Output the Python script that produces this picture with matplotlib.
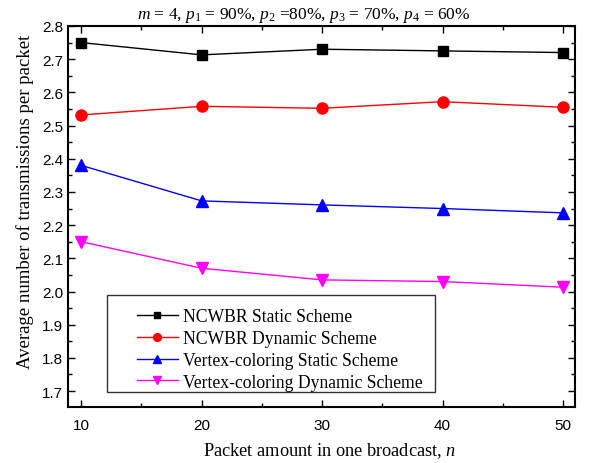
import matplotlib.pyplot as plt
from matplotlib.patches import Rectangle
from matplotlib.ticker import MultipleLocator

# data
n = [10, 20, 30, 40, 50]
ncwbr_static = [2.750, 2.713, 2.730, 2.725, 2.720]
ncwbr_dynamic = [2.532, 2.558, 2.552, 2.572, 2.555]
vc_static = [2.380, 2.273, 2.261, 2.250, 2.237]
vc_dynamic = [2.150, 2.070, 2.035, 2.030, 2.013]

plt.rcParams['font.family'] = 'Liberation Sans'
plt.rcParams['mathtext.fontset'] = 'custom'
plt.rcParams['mathtext.rm'] = 'Liberation Serif'
plt.rcParams['mathtext.it'] = 'Liberation Serif:italic'

fig = plt.figure(figsize=(5.9, 4.64), dpi=100)
ax = fig.add_axes([68/590, 1-408/464, 507/590, 381/464])

ax.plot(n, ncwbr_static, '-s', color='black', lw=1, ms=7, label='NCWBR Static Scheme')
ax.plot(n, ncwbr_dynamic, '-o', color='red', lw=1, ms=8, label='NCWBR Dynamic Scheme')
ax.plot(n, vc_static, '-^', color='blue', lw=1, ms=9, label='Vertex-coloring Static Scheme')
ax.plot(n, vc_dynamic, '-v', color='magenta', lw=1, ms=9, label='Vertex-coloring Dynamic Scheme')

ax.set_xlim(8.9, 51)
ax.set_ylim(1.652, 2.8)
ax.xaxis.set_major_locator(MultipleLocator(10))
ax.xaxis.set_minor_locator(MultipleLocator(5))
ax.yaxis.set_major_locator(MultipleLocator(0.1))
ax.yaxis.set_minor_locator(MultipleLocator(0.05))
ax.yaxis.set_major_formatter(plt.FormatStrFormatter('%.1f'))
ax.tick_params(which='both', direction='in', top=True, right=True, labelsize=11)
ax.tick_params(which='major', length=5, width=1)
ax.tick_params(which='minor', length=3, width=1)
ax.tick_params(axis='x', pad=8)
for s in ax.spines.values():
    s.set_linewidth(1.5)

ax.set_xlabel('Packet amount in one broadcast, $n$', family='Liberation Serif', fontsize=13.2,
              labelpad=6, x=0.517)
ax.set_ylabel('Average number of transmissions per packet', family='Liberation Serif',
              fontsize=13.5, y=0.54, labelpad=6)
ax.set_title('$m$ = 4, $p_1$ = 90%, $p_2$ =80%, $p_3$ = 70%, $p_4$ = 60%',
             family='Liberation Serif', fontsize=12.5, pad=6, x=0.466)

# legend box drawn separately: the original has more room above the entries than below
ax.add_patch(Rectangle((0.077, 0.039), 0.647, 0.255, transform=ax.transAxes,
                       fill=False, edgecolor='#333333', lw=1, zorder=4))
ax.legend(loc='lower left', bbox_to_anchor=(0.136, 0.043), borderaxespad=0, borderpad=0,
          frameon=False, prop={'family': 'Liberation Serif', 'size': 12.7},
          handlelength=2.3, labelspacing=0.28, handletextpad=0.3, markerscale=0.7)

fig.savefig('out.png', dpi=100)
